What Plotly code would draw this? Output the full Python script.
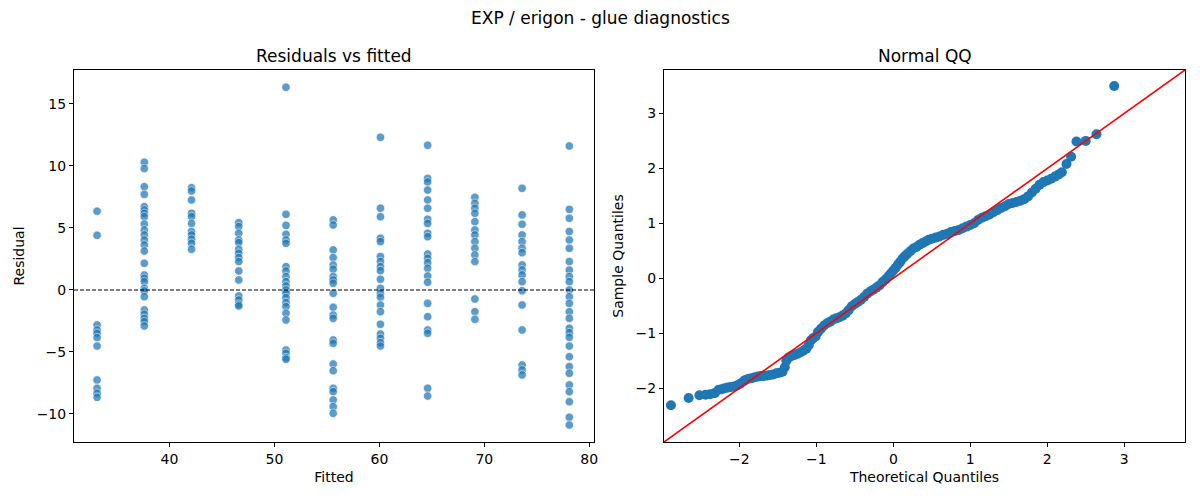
import plotly.graph_objects as go

# residuals vs fitted: one list of residuals per fitted level
fitted_levels = [33.1, 37.6, 42.1, 46.6, 51.1, 55.6, 60.1, 64.6, 69.1, 73.6, 78.1]
resid_groups = [
    [6.35, 4.41, -2.82, -3.23, -3.49, -3.84, -4.52, -7.26, -7.93, -8.33, -8.66],
    [10.3, 9.79, 8.33, 7.71, 6.72, 6.45, 6.18, 5.91, 5.32, 4.84, 4.44, 4.03, 3.63,
     3.14, 2.15, 1.21, 0.94, 0.67, 0.13, -0.08, -0.54, -1.61, -1.96, -2.29, -2.55, -2.9],
    [8.25, 7.98, 7.26, 6.18, 5.91, 5.37, 4.71, 4.44, 4.09, 3.76, 3.28],
    [5.43, 5.11, 4.57, 4.03, 3.82, 3.28, 2.96, 2.61, 2.29, 1.53, 0.81, -0.48, -0.81,
     -1.16, -1.29],
    [16.35, 6.1, 5.21, 4.49, 4.03, 3.76, 1.88, 1.53, 1.08, 0.67, 0.32, 0.0, -0.27,
     -0.62, -1.02, -1.34, -1.88, -2.42, -4.84, -5.11, -5.46, -5.59],
    [5.65, 5.24, 3.23, 2.61, 2.02, 1.67, 1.08, 0.81, 0.54, -0.27, -1.4, -2.02, -2.29,
     -4.03, -4.3, -5.97, -6.51, -7.93, -8.2, -8.87, -9.41, -9.95],
    [12.31, 6.59, 5.91, 4.17, 3.9, 2.69, 2.29, 1.88, 1.56, 0.86, 0.13, -0.27, -0.59,
     -1.21, -1.75, -2.77, -3.55, -3.9, -4.25, -4.52],
    [11.67, 9.0, 8.71, 8.06, 7.26, 6.59, 5.7, 5.37, 4.57, 4.3, 2.9, 2.55, 2.2, 1.75,
     1.13, 0.62, -1.08, -2.15, -3.23, -3.49, -7.93, -8.55],
    [7.47, 6.99, 6.59, 6.18, 5.51, 4.84, 4.44, 3.9, 3.36, 2.82, 2.29, -0.73, -1.75, -2.37],
    [8.2, 6.05, 5.3, 4.44, 3.9, 3.36, 3.01, 2.02, 1.61, 1.21, 0.67, -0.06, -1.21,
     -3.23, -6.05, -6.45, -6.85],
    [11.61, 6.5, 5.78, 4.71, 4.03, 3.36, 2.29, 1.61, 1.08, 0.67, 0.0, -0.54, -1.08,
     -1.75, -2.29, -3.09, -3.44, -3.82, -4.52, -5.38, -6.18, -6.72, -7.66, -8.2,
     -9.01, -10.27, -10.89],
]

# normal QQ: theoretical vs sample quantiles
qq_theoretical = [
    -2.89, -2.66, -2.52, -2.44, -2.38, -2.32, -2.27, -2.23, -2.19, -2.15, -2.11, -2.07,
    -2.03, -1.99, -1.95, -1.92, -1.88, -1.84, -1.80, -1.76, -1.72, -1.68, -1.64, -1.60,
    -1.56, -1.52, -1.48, -1.44, -1.41, -1.39, -1.36, -1.33, -1.29, -1.25, -1.21, -1.17,
    -1.13, -1.10, -1.07, -1.04, -1.01, -0.98, -0.94, -0.90, -0.86, -0.82, -0.78, -0.74,
    -0.70, -0.66, -0.62, -0.58, -0.54, -0.50, -0.46, -0.42, -0.38, -0.34, -0.30, -0.26,
    -0.22, -0.18, -0.14, -0.10, -0.06, -0.03, 0.00, 0.03, 0.06, 0.09, 0.12, 0.15, 0.18,
    0.22, 0.26, 0.30, 0.34, 0.38, 0.42, 0.46, 0.50, 0.55, 0.60, 0.65, 0.70, 0.75, 0.80,
    0.85, 0.90, 0.95, 1.00, 1.05, 1.10, 1.15, 1.20, 1.25, 1.30, 1.35, 1.40, 1.45, 1.50,
    1.55, 1.60, 1.65, 1.70, 1.75, 1.80, 1.85, 1.90, 1.95, 2.00, 2.05, 2.10, 2.15, 2.19,
    2.25, 2.31, 2.38, 2.50, 2.64, 2.87,
]
qq_sample = [
    -2.31, -2.18, -2.13, -2.12, -2.11, -2.09, -2.03, -2.02, -2.00, -1.99, -1.98, -1.97,
    -1.95, -1.92, -1.88, -1.85, -1.83, -1.82, -1.80, -1.79, -1.78, -1.78, -1.77, -1.76,
    -1.75, -1.73, -1.72, -1.70, -1.62, -1.50, -1.44, -1.42, -1.40, -1.38, -1.35, -1.32,
    -1.28, -1.22, -1.13, -1.09, -1.06, -0.98, -0.92, -0.86, -0.82, -0.79, -0.75, -0.73,
    -0.71, -0.68, -0.64, -0.58, -0.51, -0.47, -0.43, -0.39, -0.34, -0.28, -0.24, -0.21,
    -0.17, -0.13, -0.07, -0.02, 0.04, 0.09, 0.14, 0.19, 0.25, 0.30, 0.36, 0.40, 0.44,
    0.49, 0.54, 0.57, 0.61, 0.64, 0.67, 0.70, 0.72, 0.74, 0.76, 0.79, 0.81, 0.84, 0.86,
    0.88, 0.91, 0.94, 0.97, 1.00, 1.06, 1.10, 1.13, 1.16, 1.20, 1.24, 1.28, 1.31, 1.35,
    1.37, 1.39, 1.41, 1.44, 1.49, 1.56, 1.63, 1.70, 1.75, 1.78, 1.81, 1.85, 1.89, 1.93,
    2.08, 2.21, 2.49, 2.50, 2.62, 3.50,
]
qq_lims = [-2.98, 3.79]

blue = '#1f77b4'
font = 'DejaVu Sans'

# page body adds an 8px margin, so the figure is 8px smaller than the window
W, H = 1192, 492
left_dom = [66 / W, 586 / W]
right_dom = [656 / W, 1177 / W]
y_dom = [1 - 434 / H, 1 - 62 / H]

fitted_x = []
resid_y = []
for lvl, grp in zip(fitted_levels, resid_groups):
    fitted_x += [lvl] * len(grp)
    resid_y += grp

fig = go.Figure()

fig.add_trace(go.Scatter(
    x=fitted_x, y=resid_y, mode='markers', xaxis='x', yaxis='y',
    marker=dict(color=blue, size=8.5, opacity=0.72, line=dict(color='white', width=0.7)),
    showlegend=False))

fig.add_trace(go.Scatter(
    x=qq_theoretical, y=qq_sample, mode='markers', xaxis='x2', yaxis='y2',
    marker=dict(color=blue, size=10, line=dict(width=0)),
    showlegend=False))

# 45 degree reference line
fig.add_trace(go.Scatter(
    x=qq_lims, y=qq_lims, mode='lines', xaxis='x2', yaxis='y2',
    line=dict(color='red', width=1.6), showlegend=False))

axis_style = dict(showline=True, linecolor='black', linewidth=1, mirror=True,
                  ticks='outside', ticklen=4, tickcolor='black', showgrid=False,
                  zeroline=False, automargin=False,
                  tickfont=dict(size=14, color='black'))

fig.update_layout(
    width=W, height=H,
    margin=dict(l=0, r=0, t=0, b=0),
    paper_bgcolor='white', plot_bgcolor='white',
    font=dict(family=font, color='black'),
    xaxis=dict(domain=left_dom, range=[30.9, 80.45], tickvals=[40, 50, 60, 70, 80],
               title=dict(text='Fitted', font=dict(size=14), standoff=6), **axis_style),
    yaxis=dict(domain=y_dom, range=[-12.26, 17.74], tickvals=[-10, -5, 0, 5, 10, 15],
               title=dict(text='Residual', font=dict(size=14), standoff=8), **axis_style),
    xaxis2=dict(domain=right_dom, range=qq_lims, tickvals=[-2, -1, 0, 1, 2, 3],
                anchor='y2',
                title=dict(text='Theoretical Quantiles', font=dict(size=14), standoff=6),
                **axis_style),
    yaxis2=dict(domain=y_dom, range=qq_lims, tickvals=[-2, -1, 0, 1, 2, 3],
                anchor='x2',
                title=dict(text='Sample Quantiles', font=dict(size=14), standoff=8),
                **axis_style),
    shapes=[dict(type='line', xref='x domain', yref='y', x0=0, x1=1, y0=0, y1=0,
                 layer='above', line=dict(color='black', width=1.2, dash='4px,2px'))],
    annotations=[
        dict(text='EXP / erigon - glue diagnostics', xref='paper', yref='paper',
             x=592 / W, y=1 - 10 / H, showarrow=False, font=dict(size=17),
             xanchor='center', yanchor='middle'),
        dict(text='Residuals vs fitted', xref='paper', yref='paper',
             x=sum(left_dom) / 2, y=1 - 48 / H, showarrow=False, font=dict(size=17),
             xanchor='center', yanchor='middle'),
        dict(text='Normal QQ', xref='paper', yref='paper',
             x=sum(right_dom) / 2, y=1 - 48 / H, showarrow=False, font=dict(size=17),
             xanchor='center', yanchor='middle'),
    ],
)

fig.write_html("out.html")
